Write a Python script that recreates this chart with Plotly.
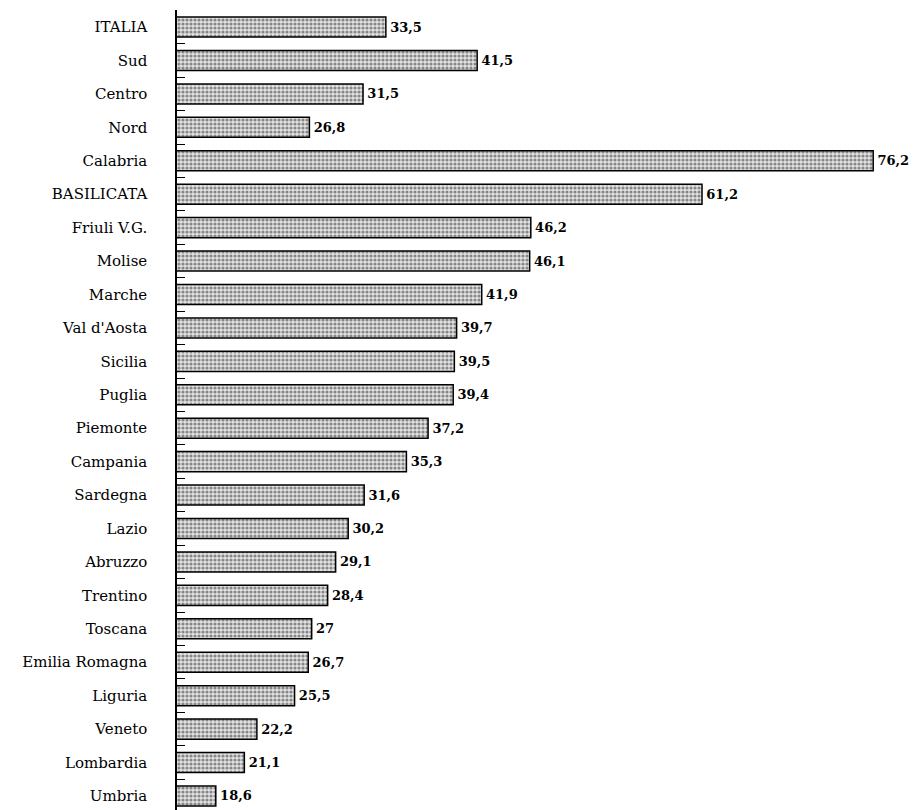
import plotly.graph_objects as go

regions = ["ITALIA", "Sud", "Centro", "Nord", "Calabria", "BASILICATA", "Friuli V.G.",
           "Molise", "Marche", "Val d'Aosta", "Sicilia", "Puglia", "Piemonte", "Campania",
           "Sardegna", "Lazio", "Abruzzo", "Trentino", "Toscana", "Emilia Romagna",
           "Liguria", "Veneto", "Lombardia", "Umbria"]
values = [33.5, 41.5, 31.5, 26.8, 76.2, 61.2, 46.2, 46.1, 41.9, 39.7, 39.5, 39.4, 37.2,
          35.3, 31.6, 30.2, 29.1, 28.4, 27, 26.7, 25.5, 22.2, 21.1, 18.6]
labels = ["\u200a" + ("%g" % v).replace(".", ",") for v in values]

fig = go.Figure(go.Bar(
    x=values, y=regions, orientation="h",
    text=labels, textposition="outside", cliponaxis=False,
    textfont=dict(family="DejaVu Serif", size=13, color="black", weight="bold"),
    marker=dict(color="#c8c8c8",
                line=dict(color="black", width=1.5),
                pattern=dict(shape=".", bgcolor="#e2e2e2", fgcolor="#2a2a2a",
                             size=4, solidity=0.5)),
))

fig.update_layout(
    width=912, height=802,
    margin=dict(l=169, r=0, t=2, b=0, autoexpand=False),
    paper_bgcolor="white", plot_bgcolor="white",
    bargap=0.4, showlegend=False,
    xaxis=dict(range=[15.2, 80.3], visible=False, automargin=False),
    yaxis=dict(type="category", range=[23.42, -0.51], automargin=False,
               showline=True, linecolor="black", linewidth=1.5,
               ticks="inside", tickson="boundaries", ticklen=8, tickcolor="black",
               tickwidth=1, ticklabelstandoff=25, showgrid=False,
               tickfont=dict(family="DejaVu Serif", size=15, color="black")),
)

fig.write_html("out.html")
